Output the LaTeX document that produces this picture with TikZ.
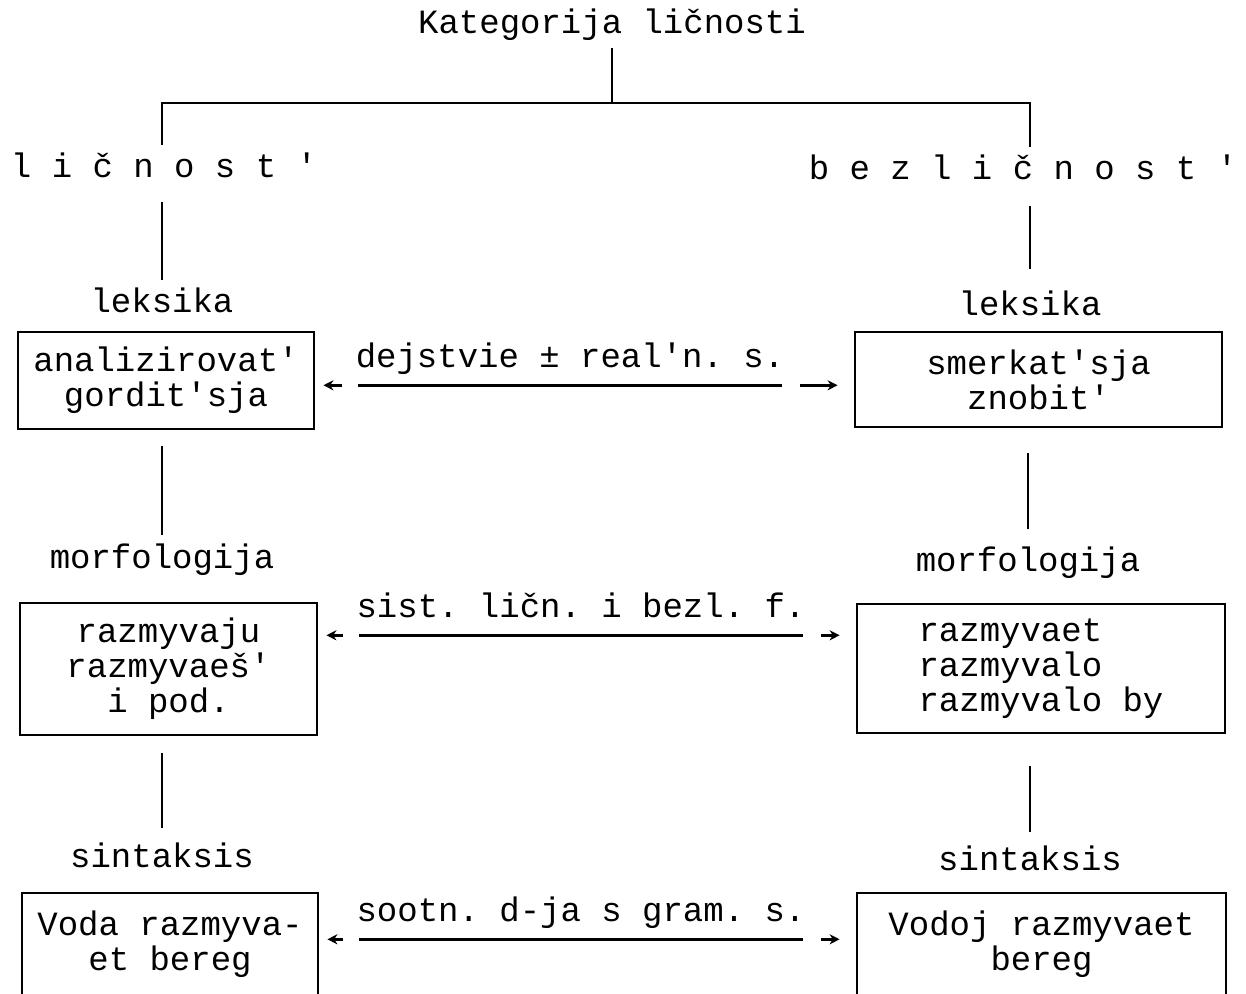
\documentclass[tikz,border=0pt]{standalone}
\usepackage{fontspec}
\setmainfont{Liberation Mono}[Ligatures=TeXOff]
\usetikzlibrary{arrows.meta, calc}

\begin{document}
\begin{tikzpicture}[x=0.5pt, y=-0.5pt, line width=1.3pt,
    font=\fontsize{17}{17.5}\selectfont\frenchspacing,
    wort/.style={inner sep=3pt},
    kasten/.style={draw, line width=1.4pt, align=center, inner sep=3pt},
    beschr/.style={anchor=base, inner xsep=-2pt, inner ysep=8.5pt, text depth=0pt},
    pfeil/.style={-{Stealth[length=5pt, width=5pt]}}]
        \useasboundingbox (0,0) rectangle (1246,994);
        \clip (0,0) rectangle (1246,994);

        %Kopf
        \node[wort] (titel) at (612,25) {Kategorija ličnosti};
        \node[wort] (lic) at (164,165) {l i č n o s t '};
        \node[wort] (bez) at (1023,167) {b e z l i č n o s t '};
        \coordinate (gabel) at (612,103);

        %Ebenen links / rechts
        \node[wort] (lex1) at (162,300) {leksika};
        \node[wort] (lex2) at (1030,303) {leksika};
        \node[wort] (mor1) at (162,560) {morfologija};
        \node[wort] (mor2) at (1028,563) {morfologija};
        \node[wort] (sin1) at (162,855) {sintaksis};
        \node[wort] (sin2) at (1030,858) {sintaksis};

        %Kaesten
        \node[kasten, minimum width=148pt, minimum height=48.5pt] (l1) at (166,380.5) {analizirovat'\\gordit'sja};
        \node[kasten, minimum width=183.5pt, minimum height=47.5pt] (r1) at (1038.5,379.5) {smerkat'sja\\znobit'};
        \node[kasten, minimum width=148.5pt, minimum height=66pt] (l2) at (168.5,669) {razmyvaju\\razmyvaeš'\\i pod.};
        \node[kasten, align=left, minimum width=184pt, minimum height=64.5pt] (r2) at (1041,668.5) {razmyvaet\\razmyvalo\\razmyvalo by};
        \node[kasten, minimum width=148pt, minimum height=65pt] (l3) at (170,958) {Voda razmyva-\\et bereg\\\mbox{}};
        \node[kasten, minimum width=184.5pt, minimum height=65pt] (r3) at (1041.5,958) {Vodoj razmyvaet\\bereg\\\mbox{}};

        %Beschriftung der Pfeile
        \node[beschr] (lab1) at (570,367) {dejstvie ± real'n. s.};
        \node[beschr] (lab2) at (581,617) {sist. ličn. i bezl. f.};
        \node[beschr] (lab3) at (581,921) {sootn. d-ja s gram. s.};

        %Baum
        \draw (titel) -- (gabel);
        \draw (lic.north -| lex1.north) |- (gabel) -| (lex2.north |- bez.north);

        %Stiele
        \draw[shorten <=8.5pt] (lex1.north |- lic.south) -- (lex1.north);
        \draw[shorten <=9.5pt, shorten >=7pt] (lex2.north |- bez.south) -- (lex2.north);
        \draw[shorten <=8pt, shorten >=1pt] (mor1.north |- l1.south) -- (mor1.north);
        \draw[shorten <=12.5pt, shorten >=5.5pt] (mor2.north |- r1.south) -- (mor2.north);
        \draw[shorten <=8.5pt, shorten >=3.5pt] (sin1.north |- l2.south) -- (sin1.north);
        \draw[shorten <=16pt, shorten >=3pt] (sin2.north |- r2.south) -- (sin2.north);

        %Pfeile
        \foreach \z/\li/\re in {lab1/l1/r1, lab2/l2/r2, lab3/l3/r3}{
            \draw (\z.south west) -- (\z.south east);
            \draw[pfeil] ($(\z.south west)+(-16,0)$) -- ($(\li.east |- \z.south)+(8,0)$);
            \draw[pfeil] ($(\z.south east)+(18,0)$) -- ($(\re.west |- \z.south)+(-16,0)$);
        }
    \end{tikzpicture}
\end{document}
